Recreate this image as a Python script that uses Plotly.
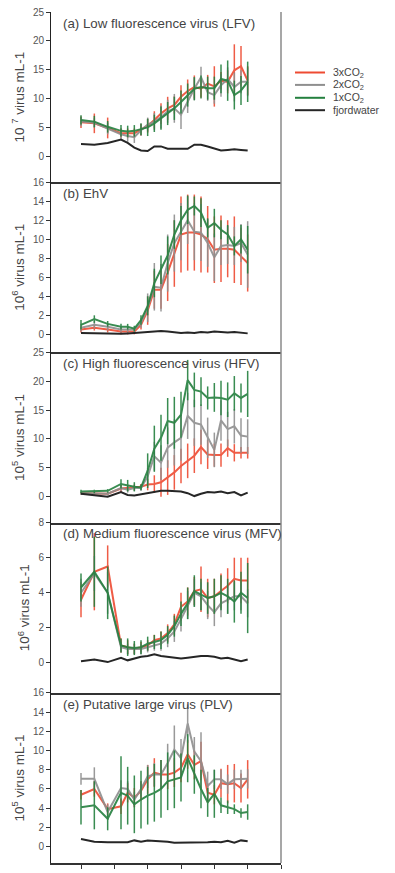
import plotly.graph_objects as go
from plotly.subplots import make_subplots

days = [0, 2, 4, 6, 7, 8, 9, 10, 11, 12, 13, 14, 15, 16, 17, 18, 19, 20, 21, 22, 23, 24, 25]

# Panel (a) LFV, 10^7 virus mL-1
red_a = [5.9, 5.7, 4.9, 4.0, 4.0, 4.0, 4.6, 5.3, 6.3, 7.4, 8.3, 8.9, 10.3, 11.3, 12.0, 11.7, 12.6, 12.1, 13.1, 12.9, 14.9, 15.6, 13.1]
red_a_err = [1.0, 1.7, 1.8, 0.8, 0.8, 0.8, 1.0, 1.2, 1.5, 1.8, 2.0, 1.5, 2.0, 2.0, 2.0, 1.5, 1.5, 3.5, 1.5, 2.0, 4.5, 3.5, 2.5]
gray_a = [6.0, 5.8, 4.8, 3.8, 3.5, 3.3, 4.5, 5.5, 6.0, 6.8, 7.8, 8.3, 7.2, 9.5, 11.7, 13.7, 11.1, 10.6, 12.3, 13.4, 12.0, 12.9, 12.9]
gray_a_err = [0.8, 0.8, 1.0, 1.0, 1.0, 1.0, 1.0, 1.2, 1.5, 2.0, 2.0, 2.5, 2.5, 2.0, 2.0, 1.8, 1.5, 1.5, 2.0, 2.0, 2.5, 2.0, 2.5]
green_a = [6.3, 6.0, 5.1, 4.4, 4.3, 4.4, 4.7, 5.0, 5.7, 6.6, 7.4, 8.3, 9.4, 10.6, 11.7, 12.0, 11.8, 11.8, 13.4, 13.1, 10.6, 11.4, 12.9]
green_a_err = [0.8, 1.0, 1.0, 1.0, 1.0, 1.0, 1.0, 1.5, 1.5, 2.0, 2.0, 2.0, 2.0, 2.0, 2.0, 2.0, 2.0, 2.0, 2.5, 3.5, 2.5, 2.5, 3.5]
black_a = [2.1, 2.0, 2.3, 2.9, 2.3, 1.5, 1.0, 0.9, 1.7, 1.7, 1.3, 1.3, 1.3, 1.3, 2.0, 2.0, 1.7, 1.3, 1.0, 1.1, 1.2, 1.1, 1.0]

# Panel (b) EhV, 10^6 virus mL-1
red_b = [0.5, 0.7, 0.5, 0.3, 0.3, 0.3, 1.0, 2.5, 4.7, 4.7, 6.5, 8.5, 10.5, 10.7, 10.7, 10.5, 10.0, 8.9, 9.0, 9.0, 8.9, 8.2, 7.5]
red_b_err = [0.3, 0.3, 0.3, 0.3, 0.3, 0.3, 0.5, 1.5, 2.0, 2.0, 3.0, 3.5, 4.0, 4.0, 4.0, 4.0, 3.5, 3.5, 3.5, 3.0, 3.5, 3.0, 3.0]
gray_b = [0.7, 1.0, 0.8, 0.5, 0.5, 0.5, 1.2, 2.8, 5.0, 4.9, 7.5, 9.6, 10.8, 12.0, 10.8, 10.7, 9.6, 8.1, 9.3, 9.4, 9.3, 9.6, 8.4]
gray_b_err = [0.4, 0.4, 0.4, 0.3, 0.3, 0.3, 0.5, 1.5, 2.5, 2.5, 3.0, 3.0, 3.0, 2.5, 3.0, 3.0, 2.5, 2.5, 2.0, 2.0, 2.0, 2.0, 3.5]
green_b = [1.0, 1.6, 1.1, 0.8, 0.8, 0.6, 1.5, 3.0, 5.4, 6.8, 8.3, 10.5, 12.0, 13.1, 13.5, 12.8, 11.2, 11.7, 11.0, 10.5, 9.3, 10.0, 8.9]
green_b_err = [0.5, 0.4, 0.3, 0.3, 0.3, 0.3, 0.5, 1.0, 1.5, 1.5, 2.0, 1.5, 1.5, 1.5, 1.0, 1.5, 1.0, 1.5, 1.0, 1.0, 1.0, 1.5, 2.5]
black_b = [0.15, 0.1, 0.05, 0.05, 0.1, 0.15, 0.15, 0.2, 0.25, 0.35, 0.3, 0.2, 0.15, 0.2, 0.15, 0.25, 0.2, 0.3, 0.25, 0.2, 0.25, 0.2, 0.1]

# Panel (c) HFV, 10^5 virus mL-1
red_c = [0.6, 0.5, 0.5, 1.4, 1.5, 1.6, 1.7, 2.1, 2.2, 2.5, 3.3, 4.2, 5.3, 6.2, 7.1, 8.6, 7.3, 7.2, 7.2, 8.4, 7.6, 7.6, 7.6]
red_c_err = [0.2, 0.2, 0.2, 0.6, 0.5, 0.5, 0.5, 1.0, 1.5, 2.5, 3.0, 3.0, 3.0, 3.0, 3.0, 3.0, 2.5, 2.0, 2.0, 1.5, 1.5, 1.0, 1.0]
gray_c = [0.6, 0.6, 0.5, 1.5, 1.2, 1.5, 1.5, 3.5, 7.0, 5.9, 8.5, 9.4, 10.2, 14.0, 12.8, 12.5, 10.2, 8.1, 13.2, 11.7, 12.2, 10.6, 10.4]
gray_c_err = [0.3, 0.3, 0.3, 0.5, 0.5, 0.5, 0.5, 1.5, 2.5, 3.0, 3.5, 4.0, 4.0, 4.0, 4.0, 3.5, 3.5, 3.0, 3.5, 3.0, 3.0, 3.0, 3.0]
green_c = [0.9, 0.9, 1.0, 2.2, 1.9, 1.7, 1.6, 4.5, 8.3, 10.2, 13.1, 12.8, 14.2, 20.2, 18.5, 18.2, 17.1, 17.2, 17.1, 16.8, 17.9, 17.1, 17.8]
green_c_err = [0.3, 0.3, 0.3, 0.8, 1.0, 0.8, 0.5, 3.0, 4.0, 4.0, 4.0, 4.5, 4.0, 3.5, 3.0, 2.5, 2.0, 2.5, 3.0, 3.0, 3.0, 2.5, 4.0]
black_c = [0.5, 0.3, 0.0, 0.8, 0.3, 0.2, 0.4, 0.7, 0.8, 1.0, 1.0, 1.0, 0.9, 0.6, 0.1, 0.5, 0.8, 0.7, 0.9, 0.6, 0.8, 0.2, 0.7]

# Panel (d) MFV, 10^6 virus mL-1
red_d = [3.6, 5.2, 5.5, 1.0, 0.9, 0.8, 0.9, 1.0, 1.3, 1.4, 1.7, 2.2, 3.2, 3.5, 4.1, 4.2, 3.7, 3.8, 4.1, 4.4, 4.8, 4.7, 4.7]
red_d_err = [1.0, 2.2, 1.2, 0.4, 0.4, 0.3, 0.3, 0.3, 0.3, 0.4, 0.5, 0.6, 0.8, 0.8, 0.8, 1.3, 1.1, 1.0, 1.0, 1.0, 1.2, 1.3, 1.3]
gray_d = [4.0, 5.1, 4.0, 0.9, 0.8, 0.8, 0.8, 0.9, 1.0, 1.1, 1.4, 1.8, 2.5, 3.3, 4.0, 3.8, 3.3, 2.9, 3.4, 3.6, 3.8, 3.8, 3.4]
gray_d_err = [0.8, 1.0, 1.2, 0.3, 0.3, 0.3, 0.3, 0.3, 0.3, 0.4, 0.5, 0.6, 0.7, 0.8, 0.8, 0.8, 0.8, 0.8, 0.8, 0.8, 0.8, 0.8, 0.8]
green_d = [4.3, 5.2, 4.0, 1.0, 0.9, 0.85, 0.9, 1.1, 1.2, 1.3, 1.6, 2.1, 2.8, 3.4, 4.1, 3.9, 3.7, 3.8, 4.0, 3.8, 3.5, 4.0, 3.7]
green_d_err = [0.8, 2.0, 1.5, 0.4, 0.5, 0.4, 0.4, 0.4, 0.4, 0.5, 0.5, 0.6, 0.7, 0.9, 0.9, 0.9, 0.9, 1.0, 1.0, 1.0, 1.2, 1.2, 2.0]
black_d = [0.1, 0.2, 0.05, 0.3, 0.15, 0.25, 0.35, 0.4, 0.5, 0.4, 0.35, 0.3, 0.25, 0.3, 0.35, 0.4, 0.4, 0.35, 0.25, 0.3, 0.2, 0.1, 0.2]

# Panel (e) PLV, 10^5 virus mL-1
red_e = [5.4, 6.0, 3.9, 4.2, 5.6, 5.1, 5.8, 7.0, 7.7, 7.5, 7.5, 7.7, 8.2, 9.6, 8.5, 8.9, 5.6, 5.4, 6.6, 6.5, 6.6, 6.1, 7.0]
red_e_err = [0.5, 0.8, 0.6, 0.8, 1.0, 1.0, 1.0, 1.5, 1.5, 1.5, 1.5, 1.5, 1.5, 1.5, 1.5, 2.0, 1.0, 1.0, 1.5, 2.0, 2.0, 1.5, 2.0]
gray_e = [7.05, 7.05, 3.6, 6.1, 6.0, 4.9, 6.0, 7.3, 7.5, 7.5, 8.7, 10.1, 9.2, 12.8, 9.9, 8.9, 6.3, 7.0, 7.0, 6.5, 7.0, 7.0, 7.05]
gray_e_err = [0.6, 1.2, 0.8, 0.8, 0.8, 0.8, 0.8, 1.2, 1.2, 1.5, 2.0, 2.5, 2.0, 2.0, 1.5, 3.0, 1.5, 1.0, 1.0, 1.0, 1.0, 1.0, 1.0]
green_e = [4.1, 4.3, 2.9, 5.6, 5.3, 4.4, 4.9, 5.3, 5.6, 6.0, 6.8, 7.0, 7.2, 9.2, 7.5, 6.0, 4.6, 5.5, 4.3, 4.1, 3.9, 3.5, 3.6]
green_e_err = [1.8, 2.5, 1.2, 3.8, 3.0, 3.0, 3.0, 3.0, 3.0, 3.0, 3.0, 3.0, 2.5, 2.5, 2.0, 2.0, 1.5, 2.5, 0.8, 0.7, 0.5, 0.5, 0.8]
black_e = [0.8, 0.5, 0.45, 0.4, 0.45, 0.65, 0.5, 0.65, 0.6, 0.6, 0.5, 0.4, 0.4, 0.4, 0.4, 0.4, 0.45, 0.5, 0.45, 0.6, 0.4, 0.65, 0.55]

panel_labels = ["(a) Low fluorescence virus (LFV)", "(b) EhV", "(c) High fluorescence virus (HFV)",
                "(d) Medium fluorescence virus (MFV)", "(e) Putative large virus (PLV)"]
y_titles = ["10 <sup>7</sup> virus mL-1", "10<sup>6</sup> virus mL-1", "10<sup>5</sup> virus mL-1",
            "10<sup>6</sup> virus mL-1", "10<sup>5</sup> virus mL-1"]
y_ranges = [[-4.5, 25], [-1.9, 16], [-4.5, 25], [-1.7, 8], [-1.7, 16]]
y_dticks = [5, 2, 5, 2, 2]
series_names = ["3xCO<sub>2</sub>", "2xCO<sub>2</sub>", "1xCO<sub>2</sub>", "fjordwater"]
colors = ["#ee4b32", "#8f8f8f", "#24803f", "#262626"]

panels = [
    (red_a, red_a_err, gray_a, gray_a_err, green_a, green_a_err, black_a),
    (red_b, red_b_err, gray_b, gray_b_err, green_b, green_b_err, black_b),
    (red_c, red_c_err, gray_c, gray_c_err, green_c, green_c_err, black_c),
    (red_d, red_d_err, gray_d, gray_d_err, green_d, green_d_err, black_d),
    (red_e, red_e_err, gray_e, gray_e_err, green_e, green_e_err, black_e),
]

FONT = "Liberation Sans, Arial, sans-serif"
fig = make_subplots(rows=5, cols=1, shared_xaxes=True, vertical_spacing=0)

for i, (r, re, g, ge, gr, gre, bl) in enumerate(panels):
    row = i + 1
    for vals, errs, col in [(r, re, colors[0]), (g, ge, colors[1]), (gr, gre, colors[2])]:
        fig.add_trace(go.Scatter(
            x=days, y=vals, mode="lines",
            line=dict(color=col, width=2),
            error_y=dict(type="data", array=errs, visible=True, color=col, thickness=1.5, width=0),
            showlegend=False, opacity=0.9), row=row, col=1)
    fig.add_trace(go.Scatter(x=days, y=bl, mode="lines", line=dict(color=colors[3], width=2),
                             showlegend=False), row=row, col=1)
    fig.update_yaxes(range=y_ranges[i], dtick=y_dticks[i], tick0=0, row=row, col=1,
                     showline=True, linecolor="#222", linewidth=1, ticks="outside",
                     ticklen=4, tickcolor="#333", showgrid=False, zeroline=False,
                     tickfont=dict(family=FONT, size=10, color="#555"),
                     title=dict(text=y_titles[i], standoff=5,
                                font=dict(family=FONT, size=13.5, color="#444")))
    fig.update_xaxes(range=[-4.5, 30], showline=True, linecolor="#333", linewidth=1.5,
                     showgrid=False, zeroline=False, showticklabels=False,
                     ticks="outside" if row == 5 else "", ticklen=4, tickcolor="#333",
                     tick0=0, dtick=5, row=row, col=1)

# panel labels
for i, lab in enumerate(panel_labels):
    yref = "y domain" if i == 0 else f"y{i+1} domain"
    xref = "x domain" if i == 0 else f"x{i+1} domain"
    fig.add_annotation(text=lab, xref=xref, yref=yref, x=0.045, y=0.99, xanchor="left",
                       yanchor="top", showarrow=False,
                       font=dict(family=FONT, size=13.3, color="#444"))

# right border
fig.add_shape(type="line", xref="paper", yref="paper", x0=1, x1=1, y0=0, y1=1,
              line=dict(color="#8a8a8a", width=1.5))

# manual legend (paper coords); plot area spans 51..281 px horizontally, 6..864 vertically
W, H, L, R, T, B = 395, 873, 51, 114, 6, 9
pw, ph = W - L - R, H - T - B
def px_x(px):
    return (px - L) / pw
def px_y(py):
    return 1 - (py - T) / ph
legend_rows = [67, 79.5, 92.5, 105]
for name, col, yy in zip(series_names, colors, legend_rows):
    fig.add_shape(type="line", xref="paper", yref="paper", x0=px_x(295), x1=px_x(325),
                  y0=px_y(yy), y1=px_y(yy), line=dict(color=col, width=2))
    fig.add_annotation(text=name, xref="paper", yref="paper", x=px_x(331), y=px_y(yy),
                       xanchor="left", yanchor="middle", showarrow=False,
                       font=dict(family=FONT, size=10.5, color="#444"))

fig.update_layout(width=W, height=H, margin=dict(l=L, r=R, t=T, b=B),
                  plot_bgcolor="white", paper_bgcolor="white", showlegend=False)

fig.write_html("out.html")
